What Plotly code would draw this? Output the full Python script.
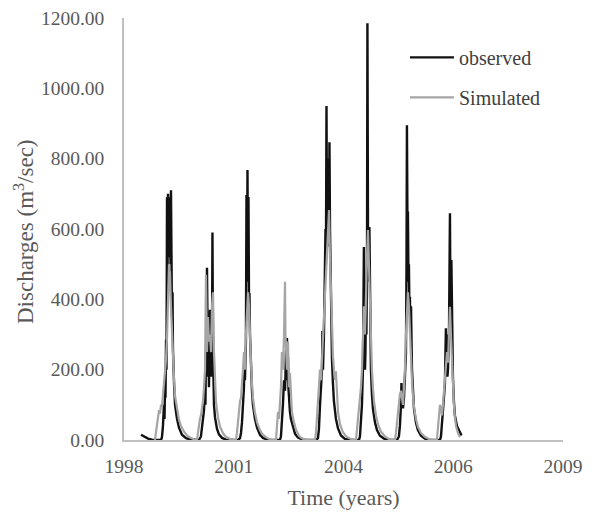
import plotly.graph_objects as go

# X values are Excel date serials (days); axis spans 36000..40000 with 1000-day ticks
tick_days = [36000, 37000, 38000, 39000, 40000]
tick_years = ["1998", "2001", "2004", "2006", "2009"]
y_ticks = [0, 200, 400, 600, 800, 1000, 1200]
y_tick_text = ["0.00", "200.00", "400.00", "600.00", "800.00", "1000.00", "1200.00"]

# Observed discharges (m3/s)
obs_day = [
    36155, 36182, 36219, 36255, 36292, 36337, 36346, 36355, 36364, 36369, 36374, 36378, 36383, 36387, 36392, 36396,
    36401, 36405, 36410, 36414, 36419, 36424, 36428, 36433, 36437, 36442, 36446, 36456, 36465, 36483, 36501, 36528,
    36565, 36601, 36647,
    36683, 36701, 36711, 36720, 36729, 36738, 36742, 36747, 36751, 36756, 36760, 36765, 36769, 36774, 36783, 36788,
    36793, 36802, 36806, 36811, 36815, 36820, 36829, 36847, 36865, 36893, 36929, 36966,
    37039, 37057, 37066, 37075, 37084, 37093, 37098, 37102, 37111, 37116, 37121, 37125, 37130, 37134, 37139, 37143,
    37148, 37157, 37166, 37175, 37193, 37212, 37239, 37266, 37303, 37348,
    37421, 37430, 37439, 37448, 37458, 37467, 37471, 37476, 37480, 37485, 37489, 37494, 37498, 37503, 37512, 37521,
    37540, 37558, 37585, 37622, 37658,
    37749, 37767, 37776, 37786, 37795, 37804, 37808, 37813, 37822, 37831, 37836, 37840, 37845, 37849, 37854, 37858,
    37863, 37868, 37872, 37877, 37881, 37886, 37895, 37904, 37913, 37931, 37950, 37977, 38013, 38059,
    38141, 38150, 38159, 38168, 38177, 38186, 38191, 38196, 38200, 38205, 38209, 38214, 38218, 38223, 38227, 38232,
    38236, 38241, 38246, 38250, 38259, 38268, 38287, 38305, 38332, 38369, 38405,
    38487, 38505, 38514, 38524, 38528, 38533, 38542, 38551, 38560, 38569, 38574, 38578, 38583, 38587, 38592, 38596,
    38601, 38605, 38610, 38615, 38624, 38633, 38642, 38660, 38678, 38706, 38742, 38779,
    38879, 38888, 38897, 38906, 38915, 38924, 38929, 38933, 38938, 38943, 38947, 38952, 38961, 38965, 38970, 38974,
    38979, 38983, 38988, 38997, 39006, 39015, 39034, 39052, 39070, 39079,
]
obs_q = [
    15, 10, 4, 1, 0, 0, 8, 40, 100, 60, 160, 120, 285, 200, 690, 450,
    700, 520, 690, 600, 690, 500, 710, 420, 350, 420, 260, 160, 100, 60, 35, 15,
    5, 2, 0,
    0, 10, 40, 65, 85, 150, 100, 250, 180, 490, 300, 200, 330, 150, 370, 250,
    180, 300, 590, 250, 140, 100, 65, 32, 16, 6, 1, 0,
    0, 5, 20, 50, 100, 150, 236, 170, 280, 697, 450, 768, 500, 691, 400, 418,
    300, 200, 140, 100, 60, 35, 15, 6, 1, 0,
    0, 10, 50, 100, 170, 140, 180, 256, 170, 290, 200, 236, 150, 120, 80, 60,
    35, 18, 7, 2, 0,
    0, 5, 30, 100, 150, 200, 310, 200, 300, 450, 600, 500, 950, 650, 800, 600,
    750, 550, 847, 600, 500, 350, 230, 160, 110, 60, 33, 13, 3, 0,
    0, 10, 60, 100, 200, 549, 300, 200, 250, 400, 300, 500, 1185, 600, 450, 500,
    606, 400, 300, 200, 130, 90, 50, 28, 12, 4, 0,
    0, 10, 40, 100, 162, 120, 90, 120, 180, 247, 500, 895, 600, 650, 450, 500,
    360, 407, 300, 380, 200, 130, 90, 50, 28, 12, 4, 0,
    0, 10, 40, 80, 120, 160, 250, 318, 200, 300, 180, 200, 300, 500, 645, 400,
    350, 512, 300, 180, 110, 70, 40, 25, 16, 14,
]

# Simulated discharges (m3/s)
sim_day = [
    36282, 36292, 36301, 36310, 36319, 36328, 36337, 36346, 36355, 36364, 36374, 36383, 36392, 36401, 36410, 36414,
    36419, 36428, 36437, 36446, 36456, 36465, 36483, 36501, 36519, 36547, 36574, 36601, 36638,
    36665, 36674, 36683, 36692, 36701, 36711, 36720, 36729, 36738, 36747, 36751, 36756, 36765, 36774, 36783, 36793,
    36802, 36811, 36820, 36829, 36838, 36856, 36875, 36902, 36929, 36966, 37011,
    37020, 37029, 37039, 37048, 37057, 37066, 37075, 37084, 37093, 37102, 37111, 37121, 37130, 37139, 37148, 37157,
    37166, 37175, 37193, 37212, 37239, 37266, 37303, 37348,
    37385, 37394, 37403, 37412, 37421, 37430, 37439, 37448, 37458, 37467, 37471, 37476, 37485, 37494, 37503, 37512,
    37521, 37530, 37549, 37567, 37594, 37622, 37658,
    37740, 37749, 37758, 37767, 37776, 37786, 37795, 37804, 37813, 37822, 37831, 37840, 37849, 37858, 37868, 37877,
    37886, 37895, 37904, 37913, 37922, 37931, 37940, 37950, 37968, 37995, 38022, 38059, 38104,
    38114, 38123, 38132, 38141, 38150, 38159, 38168, 38177, 38186, 38196, 38205, 38214, 38223, 38232, 38241, 38250,
    38259, 38268, 38278, 38296, 38314, 38341, 38378, 38414, 38451,
    38469, 38478, 38487, 38496, 38505, 38514, 38524, 38533, 38542, 38551, 38560, 38569, 38578, 38587, 38596, 38605,
    38615, 38624, 38633, 38642, 38660, 38678, 38706, 38742, 38779, 38815,
    38851, 38861, 38870, 38879, 38888, 38897, 38906, 38915, 38924, 38933, 38943, 38952, 38961, 38970, 38979, 38988,
    38997, 39006, 39015, 39025, 39043, 39061,
]
sim_q = [
    0, 25, 55, 65, 85, 75, 100, 95, 125, 150, 185, 230, 290, 400, 500, 430,
    480, 380, 300, 230, 170, 125, 85, 58, 40, 24, 13, 7, 2,
    0, 20, 50, 60, 70, 90, 110, 150, 200, 470, 300, 250, 350, 280, 300, 250,
    380, 420, 250, 160, 110, 65, 38, 19, 9, 3, 0,
    0, 20, 60, 90, 110, 120, 150, 200, 250, 200, 300, 350, 420, 380, 280, 220,
    160, 120, 78, 50, 28, 15, 6, 0,
    0, 30, 80, 60, 100, 150, 250, 200, 300, 450, 300, 250, 200, 280, 150, 190,
    120, 80, 50, 30, 12, 5, 0,
    0, 20, 60, 100, 150, 200, 170, 230, 300, 350, 420, 500, 560, 600, 654, 520,
    400, 300, 240, 200, 170, 195, 120, 80, 45, 22, 11, 4, 0,
    0, 30, 60, 80, 110, 150, 200, 280, 380, 300, 450, 520, 597, 480, 360, 270,
    200, 150, 110, 70, 45, 24, 10, 3, 0,
    0, 20, 50, 70, 100, 130, 140, 120, 100, 150, 200, 300, 350, 420, 380, 300,
    230, 170, 125, 95, 60, 38, 20, 9, 3, 0,
    0, 30, 70, 100, 90, 70, 100, 140, 180, 200, 250, 220, 280, 379, 300, 220,
    150, 100, 65, 40, 20, 8,
]

assert len(obs_day) == len(obs_q)
assert len(sim_day) == len(sim_q)

TXT = "#595959"
FONT = "Liberation Serif, Times New Roman, serif"

fig = go.Figure()
fig.add_trace(go.Scatter(x=obs_day, y=obs_q, mode="lines", name="observed",
                         legendgroup="a",
                         line=dict(color="#111111", width=2.4)))
fig.add_trace(go.Scatter(x=sim_day, y=sim_q, mode="lines", name="Simulated",
                         legendgroup="b",
                         line=dict(color="#a5a5a5", width=2.2)))

fig.update_layout(
    width=592, height=514,
    margin=dict(l=124, r=29, t=18, b=74),
    plot_bgcolor="white", paper_bgcolor="white",
    font=dict(family=FONT, color=TXT, size=19.5),
    legend=dict(x=0.64, y=0.953, xanchor="left", yanchor="top",
                font=dict(size=20, color="#404040", family=FONT),
                itemwidth=44, tracegroupgap=11, bgcolor="rgba(0,0,0,0)"),
    xaxis=dict(range=[36000, 40000], tickmode="array", tickvals=tick_days, ticktext=tick_years,
               showgrid=False, zeroline=False, showline=True, linecolor="#c0c0c0", linewidth=1.5,
               ticks="", ticklabelstandoff=8, automargin=False,
               title=dict(text="Time (years)", font=dict(size=22, color=TXT), standoff=13)),
    yaxis=dict(range=[0, 1200], tickmode="array", tickvals=y_ticks, ticktext=y_tick_text,
               showgrid=False, zeroline=False, showline=True, linecolor="#c0c0c0", linewidth=1.5,
               ticks="", ticklabelstandoff=14, automargin=False),
    annotations=[dict(text="Discharges (m<sup>3</sup>/sec)", xref="paper", yref="paper",
                      x=-0.228, y=0.495, xanchor="center", yanchor="middle", textangle=-90,
                      showarrow=False, font=dict(size=23, color=TXT, family=FONT))],
)

fig.write_html("out.html")
